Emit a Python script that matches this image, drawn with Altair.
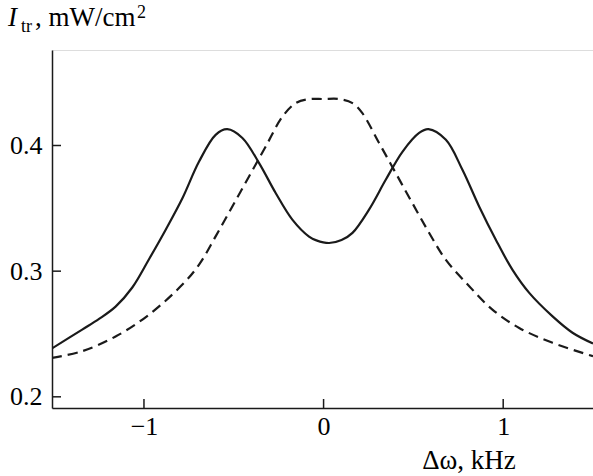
import altair as alt
import pandas as pd

# Solid curve
solid_x = [-1.512, -1.344, -1.25, -1.158, -1.065, -0.972, -0.879, -0.786, -0.694, -0.601, -0.536,
           -0.452, -0.359, -0.266, -0.174, -0.081, -0.04, 0.031, 0.1, 0.161, 0.253, 0.346, 0.439,
           0.532, 0.584, 0.681, 0.773, 0.866, 0.959, 1.052, 1.145, 1.275, 1.386, 1.5]
solid_y = [0.2385, 0.2535, 0.262, 0.2718, 0.287, 0.3095, 0.333, 0.358, 0.387, 0.4085, 0.413,
           0.406, 0.386, 0.362, 0.341, 0.3275, 0.3245, 0.3224, 0.3248, 0.3305, 0.349, 0.3727, 0.395,
           0.410, 0.413, 0.4045, 0.3807, 0.3515, 0.325, 0.301, 0.2827, 0.264, 0.251, 0.2424]

# Dashed curve
dash_x = [-1.512, -1.344, -1.158, -0.972, -0.786, -0.694, -0.601, -0.508, -0.415, -0.322,
          -0.229, -0.155, -0.081, 0.0, 0.086, 0.161, 0.216, 0.309, 0.402, 0.495,
          0.588, 0.681, 0.811, 0.94, 1.089, 1.275, 1.5]
dash_y = [0.231, 0.2363, 0.248, 0.2654, 0.2893, 0.305, 0.3277, 0.3515, 0.3754, 0.3992,
          0.423, 0.4337, 0.4369, 0.437, 0.437, 0.4337, 0.4257, 0.402, 0.378, 0.354,
          0.3304, 0.309, 0.288, 0.2694, 0.2548, 0.243, 0.2323]

x_ticks = [-1, 0, 1]
y_ticks = [0.2, 0.3, 0.4]

X_DOMAIN = [-1.512, 1.5]
Y_DOMAIN = [0.1911, 0.476]
W, H = 541, 358
FONT = "Liberation Serif"
INK = "#1a1a1a"

solid_df = pd.DataFrame({"x": solid_x, "y": solid_y})
dash_df = pd.DataFrame({"x": dash_x, "y": dash_y})

xs = alt.Scale(domain=X_DOMAIN, nice=False, zero=False)
ys = alt.Scale(domain=Y_DOMAIN, nice=False, zero=False)

xaxis = alt.Axis(values=x_ticks, title=None, tickSize=0, labelFont=FONT, labelFontSize=26,
                 labelColor="black", labelPadding=5, domainColor=INK, domainWidth=1.5,
                 grid=False, format="d")
yaxis = alt.Axis(values=y_ticks, title=None, tickSize=0, labelFont=FONT, labelFontSize=26,
                 labelColor="black", labelPadding=10, domainColor=INK, domainWidth=1.5,
                 grid=False, format=".1f")

solid = alt.Chart(solid_df).mark_line(
    color=INK, strokeWidth=2.2, interpolate="catmull-rom", clip=True
).encode(x=alt.X("x:Q", scale=xs, axis=xaxis), y=alt.Y("y:Q", scale=ys, axis=yaxis))

dashed = alt.Chart(dash_df).mark_line(
    color=INK, strokeWidth=2.2, strokeDash=[10, 6], interpolate="catmull-rom", clip=True
).encode(x=alt.X("x:Q", scale=xs), y=alt.Y("y:Q", scale=ys))

ytick_marks = alt.Chart(pd.DataFrame({"v": y_ticks})).mark_rule(
    color=INK, strokeWidth=1.5
).encode(y=alt.Y("v:Q", scale=ys), x=alt.value(0), x2=alt.value(9))

xtick_marks = alt.Chart(pd.DataFrame({"v": x_ticks})).mark_rule(
    color=INK, strokeWidth=1.5
).encode(x=alt.X("v:Q", scale=xs), y=alt.value(H), y2=alt.value(H - 9))

def txt(s, x, y, size=26, style="normal", align="left"):
    return alt.Chart(pd.DataFrame({"t": [s]})).mark_text(
        font=FONT, fontSize=size, fontStyle=style, align=align, baseline="alphabetic",
        color="black"
    ).encode(text="t:N", x=alt.value(x), y=alt.value(y))

title_parts = [
    txt("I", -44, -24, size=27, style="italic"),
    txt("tr", -31, -18, size=18),
    txt(", mW/cm", -17, -24, size=27),
    txt("2", 85, -32, size=18),
    txt("Δω, kHz", 417, 419, size=27, align="center"),
]

chart = alt.layer(solid, dashed, ytick_marks, xtick_marks, *title_parts).properties(
    width=W, height=H,
    autosize=alt.AutoSizeParams(type="none"),
    padding={"left": 52, "top": 50, "right": 0, "bottom": 68},
).configure_view(stroke=None).configure(background="white")

chart.save("out.html", embed_options={"renderer": "svg", "actions": False})
